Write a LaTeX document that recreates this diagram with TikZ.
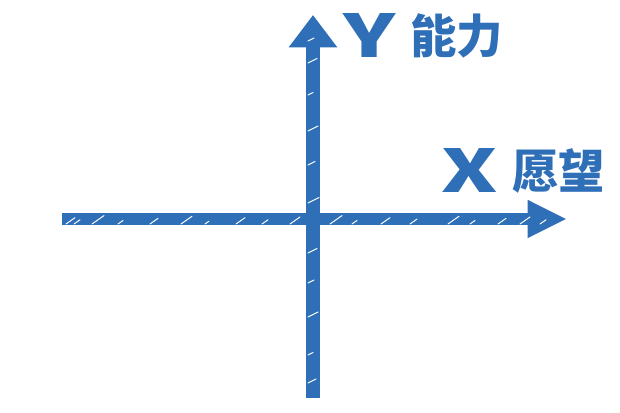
\documentclass[tikz,border=0pt]{standalone}
\usepackage{fontspec}
\setmainfont{Noto Sans CJK SC}
\newfontfamily\cjkbold{Noto Sans CJK SC Black}
\usetikzlibrary{arrows.meta}
\definecolor{Ink}{HTML}{2E6FB8}

\tikzset{
  axisline/.style={draw=Ink,line width=#1},
  scratch/.style={white,line width=0.7pt,line cap=round},
  axislabel/.style={text=Ink,inner sep=0pt,font=\cjkbold\fontsize{33}{38}\selectfont},
  axismark/.style={text=Ink,inner sep=0pt,xscale=1.45,font=\cjkbold\fontsize{42}{46}\selectfont}
}

\begin{document}
\begin{tikzpicture}[x=0.025cm,y=0.025cm]
    \useasboundingbox (0,0) rectangle (620,413);

    % axis end points
    \coordinate (xl) at (62,194);
    \coordinate (xr) at (567,194);
    \coordinate (yb) at (313,15);
    \coordinate (yt) at (313,398);

    % x axis
    \draw[axisline=8.6pt,-{Triangle[length=28pt,width=25pt]},Ink] (xl) -- (xr);
    % y axis
    \draw[axisline=10pt,-{Triangle[length=23pt,width=33pt]},Ink] (yb) -- (yt);

    % sketch scratches
    \foreach \px/\len in {66/9,74/6,92/12,118/5,150/8,181/11,205/4,236/9,262/6,
                          290/10,330/12,352/5,381/9,410/7,448/11,470/5,498/8,520/10,540/6}
      \draw[scratch] (\px,189) -- ++(\len,0.7*\len);
    \foreach \py/\len in {30/8,58/5,96/10,130/6,160/9,210/11,248/7,282/10,318/5,350/9,372/6}
      \draw[scratch] (308,\py) -- ++(\len,0.5*\len);

    % labels
    \node[axismark] (ymark) at (370,377) {Y};
    \node[axislabel,anchor=west] (ylab) at (410,377) {能力};
    \node[axismark] (xmark) at (470,242) {X};
    \node[axislabel,anchor=west] (xlab) at (512,242) {愿望};
\end{tikzpicture}
\end{document}
